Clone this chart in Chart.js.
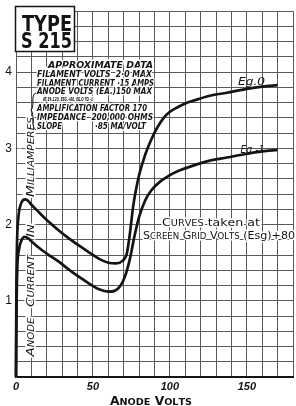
<!DOCTYPE html>
<html>
<head>
<meta charset="utf-8">
<script src="https://cdn.jsdelivr.net/npm/chart.js@4.4.0/dist/chart.umd.min.js"></script>
<style>
  html, body { margin: 0; padding: 0; background: #fff; }
  #wrap { width: 296px; height: 406px; position: relative; }
</style>
</head>
<body>
<div id="wrap"><canvas id="plate"></canvas></div>
<script>
// --- values (anode volts / milliamps) ---
const voltsEg0   = [0, 0.2, 0.6, 1.5, 3, 4.5, 6, 8, 10, 14, 20, 28, 35, 42, 48, 54, 60, 65, 69, 72, 74, 76, 78, 80, 84, 88, 92, 96, 100, 105, 110, 116, 126, 137, 150, 160, 170];
const currentEg0 = [0, 1.0, 1.7, 2.08, 2.26, 2.32, 2.33, 2.31, 2.26, 2.18, 2.06, 1.92, 1.81, 1.71, 1.63, 1.55, 1.50, 1.49, 1.52, 1.62, 1.88, 2.22, 2.46, 2.65, 2.92, 3.12, 3.28, 3.40, 3.48, 3.54, 3.59, 3.63, 3.69, 3.73, 3.78, 3.81, 3.83];

const voltsEg1   = [0, 0.3, 0.8, 2, 3.5, 5.5, 8, 10, 14, 20, 28, 35, 42, 48, 54, 60, 64, 68, 71, 74, 77, 80, 84, 88, 94, 100, 105, 116, 126, 137, 150, 160, 170];
const currentEg1 = [0, 0.8, 1.4, 1.68, 1.79, 1.84, 1.82, 1.78, 1.71, 1.62, 1.51, 1.40, 1.30, 1.22, 1.15, 1.12, 1.13, 1.20, 1.33, 1.55, 1.85, 2.10, 2.32, 2.45, 2.57, 2.65, 2.70, 2.78, 2.84, 2.88, 2.93, 2.96, 2.98];

const xTickLabels = [0, 50, 100, 150];
const yTickLabels = [1, 2, 3, 4];

// --- texts printed on the plate ---
const typeBoxLines = ['TYPE', 'S 215'];
const dataLines = [
  'APPROXIMATE DATA',
  'FILAMENT VOLTS  2·0 MAX',
  'FILAMENT CURRENT ·15 AMPS',
  'ANODE VOLTS (EA.)150 MAX',
  'AT EA.120, ESG.+80, EG.O TO -1',
  'AMPLIFICATION FACTOR 170',
  'IMPEDANCE  200,000 OHMS',
  'SLOPE',
  '·85 MA/VOLT'
];
const curveLabels = ['Eg.0', 'Eg.-1'];
const noteLines = ['CURVES taken at', 'SCREEN GRID VOLTS (Esg)+80'];
const xTitle = 'ANODE VOLTS';
const yTitleWords = ['ANODE', 'CURRENT', 'IN', 'MILLIAMPERES'];

const INK = '#141414';

// small caps: an upper case letter after another upper case letter gets the small size
function capsRuns(text) {
  const runs = [];
  for (let k = 0; k < text.length; k++) {
    const ch = text[k];
    const prev = k > 0 ? text[k - 1] : ' ';
    runs.push([ch, /[A-Z]/.test(ch) && /[A-Z]/.test(prev)]);
  }
  return runs;
}

function drawCaps(ctx, text, cx, baseline, width, bigPx, smallPx, style, halo) {
  const runs = capsRuns(text);
  const fontOf = small => `${style} ${small ? smallPx : bigPx}px "DejaVu Sans", sans-serif`;
  let total = 0;
  runs.forEach(r => { ctx.font = fontOf(r[1]); r.push(ctx.measureText(r[0]).width); total += r[2]; });
  ctx.save();
  ctx.translate(cx - width / 2, baseline);
  ctx.scale(width / total, 1);
  ctx.textAlign = 'left';
  ctx.textBaseline = 'alphabetic';
  const passes = halo ? ['stroke', 'fill'] : ['fill'];
  passes.forEach(pass => {
    let x = 0;
    runs.forEach(r => {
      ctx.font = fontOf(r[1]);
      if (pass === 'stroke') { ctx.strokeStyle = '#fff'; ctx.lineWidth = 3; ctx.strokeText(r[0], x, 0); }
      else ctx.fillText(r[0], x, 0);
      x += r[2];
    });
  });
  ctx.restore();
}

// vertical axis title sits inside the grid, between the curves
const titleUnder = {
  id: 'titleUnder',
  beforeDatasetsDraw(chart) {
    const ctx = chart.ctx;
    const pos = [[337, 39], [281, 52], [231, 13], [157, 80]];
    ctx.save();
    ctx.fillStyle = INK;
    yTitleWords.forEach((word, i) => {
      ctx.save();
      ctx.translate(30, pos[i][0]);
      ctx.rotate(-Math.PI / 2);
      drawCaps(ctx, word, 0, 3.6, pos[i][1], 10.5, 8, 'italic', true);
      ctx.restore();
    });
    ctx.restore();
  }
};

const plateText = {
  id: 'plateText',
  afterDatasetsDraw(chart) {
    const ctx = chart.ctx;
    ctx.save();

    // type box
    ctx.fillStyle = '#fff';
    ctx.fillRect(15, 6, 60, 46);
    ctx.strokeStyle = INK;
    ctx.lineWidth = 1.5;
    ctx.strokeRect(15.5, 6.5, 59, 45);
    ctx.fillStyle = INK;
    [[22, 31, 50], [21, 48, 51]].forEach((p, i) => {
      ctx.font = 'bold 22px "DejaVu Sans"';
      const w = ctx.measureText(typeBoxLines[i]).width;
      ctx.save();
      ctx.translate(p[0], p[1]);
      ctx.scale(p[2] / w, 1);
      ctx.fillText(typeBoxLines[i], 0, 0);
      ctx.restore();
    });

    // approximate data block [x0, x1, baseline, size]
    const block = [
      [48, 153, 68, 9.5], [37, 152, 77, 9.5], [37, 154, 85.5, 9.5], [37, 152, 94, 9.5],
      [43, 93, 100.5, 5.5], [37, 147, 110.5, 9.5], [37, 153, 119.5, 9.5],
      [37, 62, 128.5, 9.5], [95, 146, 128.5, 9.5]
    ];
    dataLines.forEach((line, i) => {
      const b = block[i];
      ctx.font = `italic bold ${b[3]}px "DejaVu Sans Condensed", "DejaVu Sans"`;
      const w = ctx.measureText(line).width;
      ctx.save();
      ctx.translate(b[0], b[2]);
      ctx.scale((b[1] - b[0]) / w, 1);
      ctx.strokeStyle = '#fff';
      ctx.lineWidth = 2.5;
      ctx.strokeText(line, 0, 0);
      ctx.fillText(line, 0, 0);
      ctx.restore();
    });
    // brace beside the conditions
    ctx.strokeStyle = INK;
    ctx.lineWidth = 1;
    ctx.beginPath();
    ctx.moveTo(36, 93);
    ctx.quadraticCurveTo(32, 94, 33, 103);
    ctx.quadraticCurveTo(33, 109, 31, 110);
    ctx.quadraticCurveTo(33, 111, 33, 118);
    ctx.quadraticCurveTo(32, 128, 36, 130);
    ctx.stroke();

    // curve labels
    drawCaps(ctx, curveLabels[0], 251.5, 85, 27, 10.5, 8, 'italic', false);
    drawCaps(ctx, curveLabels[1], 252.5, 152.5, 24, 10.5, 8, 'italic', false);

    // note on screen grid volts
    drawCaps(ctx, noteLines[0], 211, 226, 98, 11, 8.5, 'normal', true);
    drawCaps(ctx, noteLines[1], 219, 239, 152, 11, 8.5, 'normal', true);

    // x axis title
    drawCaps(ctx, xTitle, 151, 405, 82, 11.5, 9, 'bold', false);
    ctx.restore();
  }
};

const gridColor = '#5a5a5a';

new Chart(document.getElementById('plate'), {
  type: 'line',
  data: {
    datasets: [
      {
        label: 'Eg 0',
        data: voltsEg0.map((v, i) => ({ x: v, y: currentEg0[i] })),
        borderColor: INK, borderWidth: 2.7, pointRadius: 0,
        cubicInterpolationMode: 'monotone', fill: false, clip: 4
      },
      {
        label: 'Eg -1',
        data: voltsEg1.map((v, i) => ({ x: v, y: currentEg1[i] })),
        borderColor: INK, borderWidth: 2.7, pointRadius: 0,
        cubicInterpolationMode: 'monotone', fill: false, clip: 4
      }
    ]
  },
  options: {
    responsive: true,
    maintainAspectRatio: false,
    animation: false,
    layout: { padding: { top: 7, right: 1, left: 0, bottom: 0 } },
    plugins: { legend: { display: false }, tooltip: { enabled: false } },
    scales: {
      x: {
        type: 'linear', min: 0, max: 180,
        afterFit: scale => { scale.height = 29; },
        grid: { color: gridColor, lineWidth: 1, drawTicks: false },
        border: { color: INK, width: 2 },
        ticks: {
          stepSize: 10, autoSkip: false, maxRotation: 0, padding: 3, color: INK,
          font: { family: 'Liberation Sans', style: 'italic', weight: 'bold', size: 11 },
          callback: v => xTickLabels.includes(v) ? String(v) : ''
        }
      },
      y: {
        type: 'linear', min: 0, max: 4.8,
        afterFit: scale => { scale.width = 16; },
        grid: { color: gridColor, lineWidth: 1, drawTicks: false },
        border: { color: gridColor, width: 1 },
        ticks: {
          stepSize: 0.2, autoSkip: false, padding: 4, color: INK,
          font: { family: 'Liberation Sans', size: 12 },
          callback: v => {
            const r = Math.round(v);
            return Math.abs(v - r) < 1e-6 && yTickLabels.includes(r) ? String(r) : '';
          }
        }
      }
    }
  },
  plugins: [titleUnder, plateText]
});
</script>
</body>
</html>
